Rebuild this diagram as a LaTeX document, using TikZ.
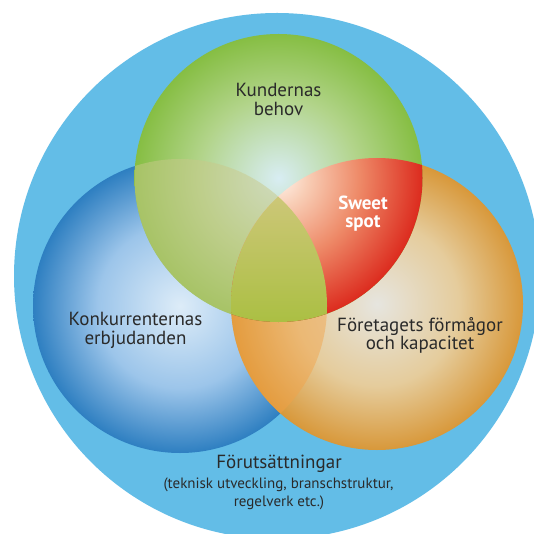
\documentclass[tikz,border=0pt]{standalone}
\usepackage{fontspec}
\setmainfont{PT Sans}
\definecolor{ring}{HTML}{63BDE7}
\definecolor{txt}{HTML}{2A2A2A}
\definecolor{bl0}{HTML}{DDECF8}
\definecolor{bl1}{HTML}{9CC5EA}
\definecolor{bl2}{HTML}{2E7FC1}
\definecolor{gr0}{HTML}{D8EDF3}
\definecolor{gr1}{HTML}{B2D48A}
\definecolor{gr2}{HTML}{86BE43}
\definecolor{or0}{HTML}{E6E5DF}
\definecolor{or1}{HTML}{E5CC9C}
\definecolor{or2}{HTML}{D8983A}
\definecolor{rd0}{HTML}{FFF2EA}
\definecolor{rd1}{HTML}{F8CDB5}
\definecolor{rd2}{HTML}{EE8A68}
\definecolor{rd3}{HTML}{DC2B1E}
\definecolor{gbover}{HTML}{C9C98A}
\definecolor{boover}{HTML}{F4A246}
\definecolor{olvtop}{HTML}{CDC778}
\definecolor{olvbot}{HTML}{AABF42}
\pgfdeclareradialshading{blueball}{\pgfpointorigin}{color(0bp)=(bl0); color(14bp)=(bl1); color(25bp)=(bl2); color(50bp)=(bl2)}
\pgfdeclareradialshading{greenball}{\pgfpointorigin}{color(0bp)=(gr0); color(14bp)=(gr1); color(25bp)=(gr2); color(50bp)=(gr2)}
\pgfdeclareradialshading{orangeball}{\pgfpointorigin}{color(0bp)=(or0); color(14bp)=(or1); color(25bp)=(or2); color(50bp)=(or2)}
\pgfdeclareradialshading{redball}{\pgfpointorigin}{color(0bp)=(rd0); color(5bp)=(rd1); color(14bp)=(rd2); color(25bp)=(rd3); color(50bp)=(rd3)}
\tikzset{
  lbl/.style={font=\fontsize{19}{19}\selectfont, text=txt, inner sep=0pt, anchor=base},
  small/.style={font=\fontsize{15}{15}\selectfont, text=txt, inner sep=0pt, anchor=base},
  sweet/.style={font=\fontsize{19}{19}\selectfont\bfseries, text=white, inner sep=0pt, anchor=base}
}
\def\BlueC{(180,306) circle[radius=147pt]}
\def\GreenC{(278.5,178) circle[radius=144pt]}
\def\OrangeC{(377,304) circle[radius=146pt]}
\begin{document}
\begin{tikzpicture}[x=1pt,y=-1pt]
\useasboundingbox (0,0) rectangle (533,534);
\fill[white] (0,0) rectangle (533,534);
\fill[ring] (277,276) circle[radius=263pt];
% competitors
\shade[shading=blueball] \BlueC;
% company
\shade[shading=orangeball] \OrangeC;
\begin{scope}
  \clip \BlueC;
  \fill[boover, opacity=0.45] \OrangeC;
\end{scope}
% customers
\shade[shading=greenball] \GreenC;
\begin{scope}
  \clip \BlueC;
  \fill[gbover, opacity=0.5] \GreenC;
\end{scope}
% sweet spot
\begin{scope}
  \clip \OrangeC;
  \shade[shading=redball] \GreenC;
\end{scope}
% triple overlap
\begin{scope}
  \clip \OrangeC;
  \clip \BlueC;
  \clip \GreenC;
  \shade[top color=olvtop, bottom color=olvbot] (220,195) rectangle (335,325);
\end{scope}
% labels
\node[lbl] (k1) at (278.5,97) {Kundernas};
\node[lbl] (k2) at (278.5,116) {behov};
\node[sweet] (s1) at (363,210) {Sweet};
\node[sweet] (s2) at (363,228) {spot};
\node[lbl] (c1) at (135.5,325) {Konkurrenternas};
\node[lbl] (c2) at (135.5,344) {erbjudanden};
\node[lbl] (f1) at (420,331) {Företagets förmågor};
\node[lbl] (f2) at (420,349) {och kapacitet};
\node[lbl] (p1) at (279,468) {Förutsättningar};
\node[small] (p2) at (278.5,488) {(teknisk utveckling, branschstruktur,};
\node[small] (p3) at (279,506) {regelverk etc.)};
\end{tikzpicture}
\end{document}
